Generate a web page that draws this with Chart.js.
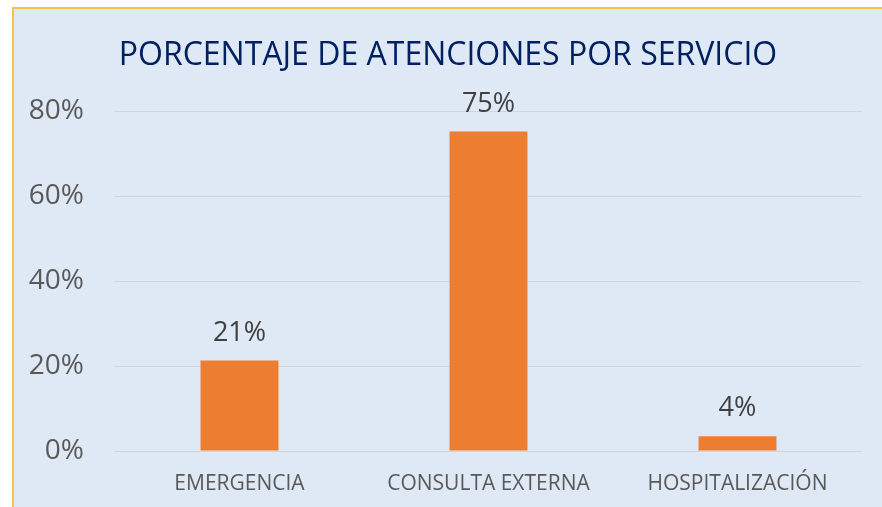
<!DOCTYPE html>
<html>
<head>
<meta charset="utf-8">
<script src="https://cdn.jsdelivr.net/npm/chart.js@4.4.1/dist/chart.umd.min.js"></script>
<style>
  html, body { margin: 0; padding: 0; background: #ffffff; width: 882px; height: 507px; overflow: hidden; }
  #box { position: absolute; left: 12px; top: 7px; width: 868px; height: 498px;
         border-top: 2px solid #f8c444; border-left: 2px solid #f8c444; background: #dee9f5; }
  #c { display: block; }
</style>
</head>
<body>
<div id="box"><canvas id="c" width="868" height="498"></canvas></div>
<script>
const titleText = 'PORCENTAJE DE ATENCIONES POR SERVICIO';
const categories = ['EMERGENCIA', 'CONSULTA EXTERNA', 'HOSPITALIZACIÓN'];
const values = [21.3, 75.2, 3.5];
const valueLabels = ['21%', '75%', '4%'];
const yTicks = [0, 20, 40, 60, 80];

const FONT = "'Open Sans', sans-serif";

const titlePlugin = {
  id: 'titleDraw',
  afterDraw(chart) {
    const ctx = chart.ctx;
    ctx.save();
    ctx.font = "32px " + FONT;
    ctx.fillStyle = '#002060';
    ctx.textAlign = 'center';
    ctx.textBaseline = 'middle';
    ctx.fillText(titleText, chart.width / 2, 47);
    ctx.restore();
  }
};

const labelPlugin = {
  id: 'valueLabels',
  afterDatasetsDraw(chart) {
    const ctx = chart.ctx;
    const meta = chart.getDatasetMeta(0);
    ctx.save();
    ctx.font = "27px " + FONT;
    ctx.fillStyle = '#404040';
    ctx.textAlign = 'center';
    ctx.textBaseline = 'bottom';
    meta.data.forEach((bar, i) => {
      ctx.fillText(valueLabels[i], bar.x, bar.y - 14);
    });
    ctx.restore();
  }
};

new Chart(document.getElementById('c'), {
  type: 'bar',
  data: {
    labels: categories,
    datasets: [{
      data: values,
      backgroundColor: '#ed7d31',
      borderWidth: 0,
      barPercentage: 0.313,
      categoryPercentage: 1.0
    }]
  },
  options: {
    responsive: false,
    animation: false,
    layout: { padding: { top: 102, right: 20, left: 0, bottom: 0 } },
    plugins: { legend: { display: false }, tooltip: { enabled: false }, title: { display: false } },
    scales: {
      x: {
        grid: { display: false, drawTicks: false },
        border: { display: false },
        ticks: { color: '#595959', font: { size: 21, family: FONT }, padding: 20, maxRotation: 0, autoSkip: false },
        afterFit(s) { s.height = 56; }
      },
      y: {
        min: 0, max: 80,
        afterBuildTicks(s) { s.ticks = yTicks.map(v => ({ value: v })); },
        grid: { color: '#d5d5d5', lineWidth: 1, drawTicks: false },
        border: { display: false },
        ticks: { color: '#595959', font: { size: 28, family: FONT }, padding: 31, callback: v => v + '%' },
        afterFit(s) { s.width = 101; }
      }
    }
  },
  plugins: [titlePlugin, labelPlugin]
});
</script>
</body>
</html>
